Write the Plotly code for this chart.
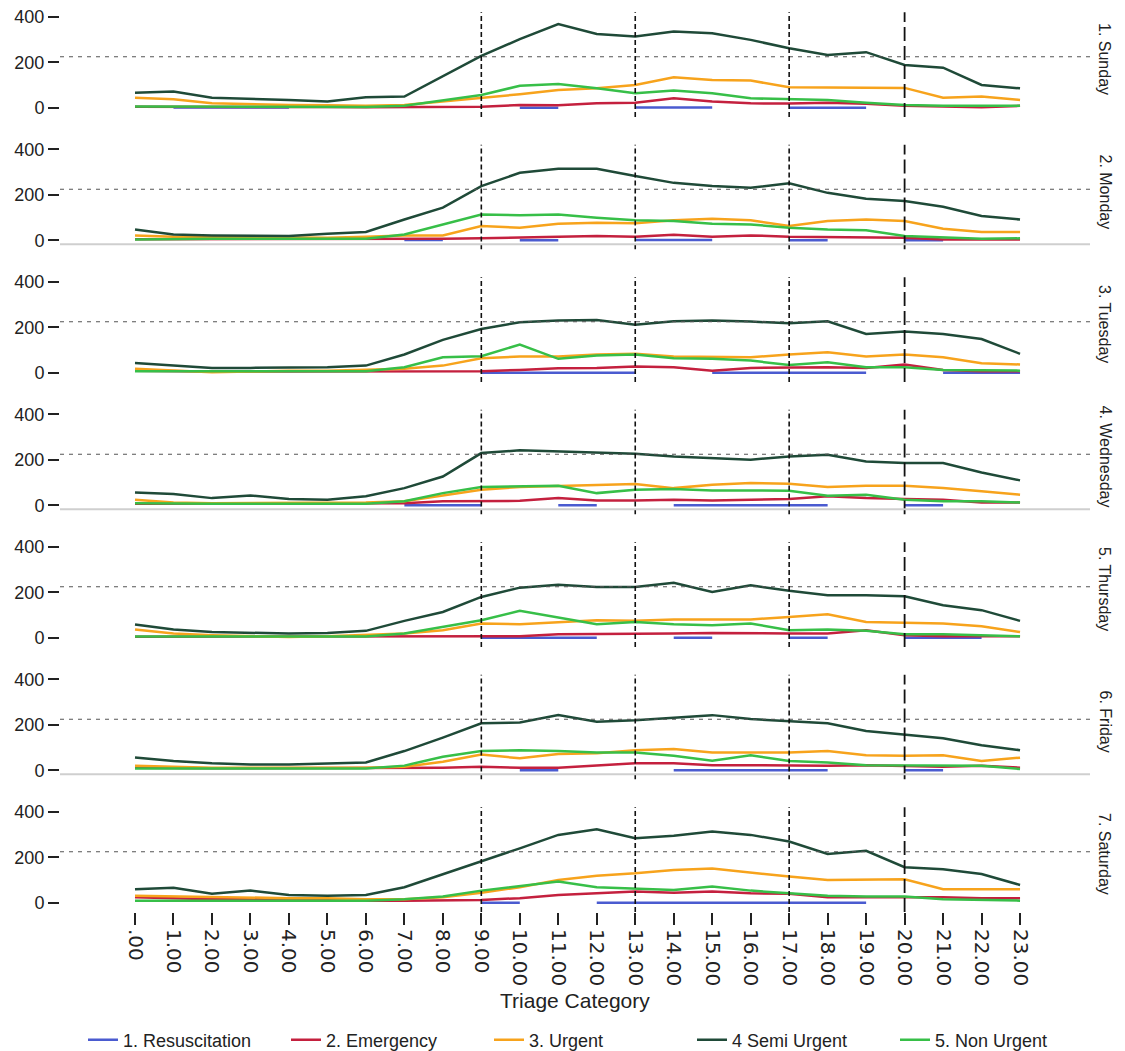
import plotly.graph_objects as go
from plotly.subplots import make_subplots

hours = list(range(24))
hour_labels = [".00", "1.00", "2.00", "3.00", "4.00", "5.00", "6.00", "7.00", "8.00", "9.00",
               "10.00", "11.00", "12.00", "13.00", "14.00", "15.00", "16.00", "17.00", "18.00",
               "19.00", "20.00", "21.00", "22.00", "23.00"]
days = ["1. Sunday", "2. Monday", "3. Tuesday", "4. Wednesday", "5. Thursday", "6. Friday", "7. Saturday"]
series_names = ["1. Resuscitation", "2. Emergency", "3. Urgent", "4 Semi Urgent", "5. Non Urgent"]
reference_hours = [9, 13, 17]
shift_hour = 20
reference_level = 225

N = None
resuscitation = [
    [N, 2, 2, 2, 2, N, N, N, N, N, 1, 1, N, 2, 2, 2, N, 1, 1, 1, N, N, N, N],
    [N, N, N, N, N, N, N, 2, 2, N, 1, 1, N, 2, 2, 2, N, 1, 1, N, 1, 1, N, N],
    [N, N, N, N, N, N, N, N, N, 1, 1, 1, 1, 1, N, 1, 1, 1, 1, 1, N, 1, 1, 1],
    [N, N, N, N, N, N, N, 1, 1, 1, N, 1, 1, N, 1, 1, 1, 1, 1, N, 1, 1, N, N],
    [N, N, N, N, N, N, N, N, N, 1, 1, 1, 1, N, 1, 1, N, 1, 1, N, 1, 1, 1, N],
    [N, N, N, N, N, N, N, N, N, N, 1, 1, N, N, 1, 1, 1, 1, 1, N, 1, 1, N, N],
    [N, N, N, N, N, N, N, N, N, 1, 1, N, 1, 1, 1, 1, 1, 1, 1, 1, N, N, N, N],
]
emergency = [
    [5, 5, 6, 7, 6, 4, 3, 3, 4, 5, 13, 12, 20, 23, 42, 28, 20, 19, 23, 18, 9, 6, 3, 9],
    [5, 5, 5, 5, 5, 5, 5, 7, 7, 9, 12, 16, 19, 16, 25, 16, 22, 16, 15, 12, 12, 4, 4, 4],
    [10, 7, 6, 6, 6, 6, 6, 6, 7, 7, 13, 20, 22, 28, 25, 10, 22, 25, 25, 22, 37, 13, 7, 7],
    [7, 7, 7, 7, 7, 7, 7, 10, 18, 18, 20, 32, 22, 22, 25, 22, 25, 28, 40, 32, 28, 25, 13, 13],
    [5, 5, 5, 5, 5, 5, 5, 4, 7, 7, 7, 16, 16, 16, 19, 22, 19, 19, 19, 34, 12, 7, 7, 7],
    [12, 9, 9, 9, 9, 9, 9, 9, 12, 16, 12, 12, 21, 31, 31, 23, 23, 21, 21, 23, 21, 16, 21, 12],
    [25, 21, 16, 16, 13, 10, 10, 10, 13, 13, 21, 35, 42, 50, 45, 50, 42, 40, 25, 25, 28, 25, 21, 21],
]
urgent = [
    [45, 38, 20, 16, 13, 12, 9, 13, 28, 42, 60, 79, 86, 101, 135, 123, 120, 91, 91, 91, 88, 45, 50, 35],
    [22, 16, 15, 15, 12, 12, 16, 22, 22, 63, 56, 73, 78, 75, 89, 95, 89, 63, 85, 92, 85, 51, 37, 37],
    [18, 10, 3, 6, 10, 10, 13, 18, 32, 64, 72, 72, 81, 84, 72, 72, 69, 81, 91, 72, 81, 69, 42, 37],
    [25, 13, 10, 10, 10, 13, 13, 18, 42, 69, 81, 86, 91, 94, 76, 91, 98, 95, 81, 86, 86, 76, 62, 47],
    [37, 19, 12, 7, 4, 7, 12, 19, 34, 63, 60, 70, 78, 75, 81, 81, 81, 92, 104, 70, 66, 63, 51, 26],
    [21, 16, 12, 12, 12, 12, 12, 16, 38, 70, 53, 72, 75, 89, 94, 79, 78, 79, 85, 67, 64, 67, 41, 56],
    [31, 28, 25, 25, 21, 21, 16, 16, 25, 45, 69, 101, 119, 130, 145, 151, 133, 116, 101, 101, 104, 60, 60, 60],
]
semi_urgent = [
    [67, 72, 45, 41, 35, 28, 47, 50, 138, 229, 302, 369, 325, 314, 336, 328, 299, 262, 233, 245, 189, 177, 101, 86],
    [48, 26, 22, 22, 19, 29, 37, 92, 144, 239, 297, 315, 315, 283, 253, 239, 231, 251, 209, 183, 173, 148, 107, 92],
    [44, 32, 22, 22, 25, 25, 32, 81, 145, 193, 223, 230, 233, 212, 227, 230, 226, 218, 227, 171, 182, 171, 149, 84],
    [57, 50, 32, 44, 28, 25, 40, 76, 127, 230, 242, 237, 233, 227, 215, 208, 201, 215, 223, 193, 186, 186, 145, 110],
    [59, 37, 26, 22, 19, 22, 31, 75, 114, 180, 221, 234, 224, 224, 242, 202, 231, 207, 188, 188, 183, 144, 122, 75],
    [57, 41, 31, 26, 26, 31, 35, 85, 144, 207, 211, 243, 214, 221, 232, 243, 226, 217, 207, 173, 158, 141, 111, 89],
    [60, 67, 40, 54, 35, 31, 35, 69, 126, 182, 240, 299, 324, 284, 295, 314, 299, 270, 215, 229, 157, 148, 127, 79],
]
non_urgent = [
    [6, 6, 5, 5, 5, 5, 4, 10, 35, 57, 97, 105, 86, 64, 76, 64, 42, 38, 35, 23, 13, 9, 9, 9],
    [4, 7, 7, 7, 7, 7, 7, 26, 70, 114, 111, 114, 100, 89, 85, 73, 70, 56, 48, 45, 19, 12, 7, 9],
    [7, 7, 7, 7, 7, 7, 7, 25, 69, 73, 125, 62, 76, 81, 64, 62, 54, 35, 47, 25, 25, 13, 10, 10],
    [10, 7, 7, 7, 7, 7, 7, 18, 54, 81, 84, 86, 54, 69, 72, 66, 66, 64, 42, 47, 25, 18, 18, 13],
    [6, 6, 6, 6, 6, 6, 6, 19, 48, 78, 119, 89, 60, 70, 60, 56, 63, 34, 37, 31, 16, 16, 12, 7],
    [8, 8, 8, 8, 8, 8, 8, 21, 60, 85, 89, 85, 79, 79, 64, 42, 67, 41, 35, 23, 23, 21, 21, 6],
    [10, 10, 10, 10, 10, 10, 10, 16, 28, 54, 75, 94, 69, 64, 57, 72, 54, 42, 31, 28, 28, 16, 13, 10],
]

colors = ["#4a5bd0", "#c4203e", "#f7a31c", "#1f4a38", "#37bf48"]
all_series = [resuscitation, emergency, urgent, semi_urgent, non_urgent]

W, H = 1125, 1051
ML, MR, MT, MB = 60, 35, 1, 139
plot_h = H - MT - MB
plot_w = W - ML - MR
bottom_px = H - MB
pitch, panel_h = 132.5, 116.0
x0_px, px_per_hour = 135.0, 38.48
x_range = [(ML - x0_px) / px_per_hour, (W - MR - x0_px) / px_per_hour]
y_range = [-40, 470]

fig = make_subplots(rows=7, cols=1, shared_xaxes=True)

for d in range(7):
    for s in range(5):
        fig.add_trace(go.Scatter(
            x=hours, y=all_series[s][d], mode="lines", name=series_names[s],
            line=dict(color=colors[s], width=2.5), showlegend=(d == 0),
            legendgroup=series_names[s], connectgaps=False,
        ), row=d + 1, col=1)

tick_font = dict(family="Liberation Sans, Arial", size=18, color="#222")
for d in range(7):
    top = d * pitch
    dom = [1 - (top + panel_h) / plot_h, 1 - top / plot_h]
    yname = "yaxis" if d == 0 else f"yaxis{d + 1}"
    xname = "xaxis" if d == 0 else f"xaxis{d + 1}"
    fig.layout[yname].update(
        domain=dom, range=y_range, tickvals=[0, 200, 400], ticktext=["0", "200", "400"],
        ticks="outside", ticklen=11, tickwidth=2, tickcolor="#222", showgrid=False,
        zeroline=False, showline=False, tickfont=tick_font,
    )
    last = d == 6
    fig.layout[xname].update(
        range=x_range, showgrid=False, zeroline=False, showline=False,
        tickvals=hours, ticktext=hour_labels, ticks="outside" if last else "",
        ticklen=12, tickwidth=1.5, tickcolor="#222", showticklabels=last, tickangle=90,
        tickfont=dict(family="DejaVu Sans", size=20, color="#222"),
    )
    yref = "y" if d == 0 else f"y{d + 1}"
    xref = "x" if d == 0 else f"x{d + 1}"
    fig.add_shape(type="line", xref=f"{xref} domain", yref=yref, x0=0, x1=1,
                  y0=reference_level, y1=reference_level,
                  line=dict(color="#555", width=1.2, dash="4px,5px"))
    for hr in reference_hours:
        fig.add_shape(type="line", xref=xref, yref=yref, x0=hr, x1=hr, y0=-40, y1=420,
                      line=dict(color="#111", width=1.6, dash="5px,3px"))
    fig.add_shape(type="line", xref=xref, yref=yref, x0=shift_hour, x1=shift_hour, y0=-40, y1=420,
                  line=dict(color="#111", width=1.8, dash="14px,5px"))
    if d in (1, 3, 5):
        fig.add_shape(type="line", xref=f"{xref} domain", yref=yref, x0=0, x1=1,
                      y0=-17, y1=-17, line=dict(color="#cfcfcf", width=2))
    fig.add_annotation(text=days[d], xref="paper", yref=f"{yref} domain",
                       x=(1105 - ML) / plot_w, y=0.5, textangle=90, showarrow=False,
                       xanchor="center", yanchor="middle",
                       font=dict(family="Liberation Sans, Arial", size=16, color="#222"))

fig.add_annotation(text="Triage Category", xref="paper", yref="paper",
                   x=0.5, y=-(1000 - bottom_px) / plot_h,
                   showarrow=False, xanchor="center", yanchor="middle",
                   font=dict(family="Liberation Sans, Arial", size=21, color="#222"))

fig.update_layout(
    width=W, height=H, margin=dict(l=ML, r=MR, t=MT, b=MB, autoexpand=False),
    plot_bgcolor="white", paper_bgcolor="white",
    legend=dict(orientation="h", x=(83 - ML) / plot_w, xanchor="left",
                y=-(1040 - bottom_px) / plot_h, yanchor="middle",
                font=dict(family="Liberation Sans, Arial", size=18, color="#222"),
                entrywidth=158, entrywidthmode="pixels", tracegroupgap=0),
)

fig.write_html("out.html")
